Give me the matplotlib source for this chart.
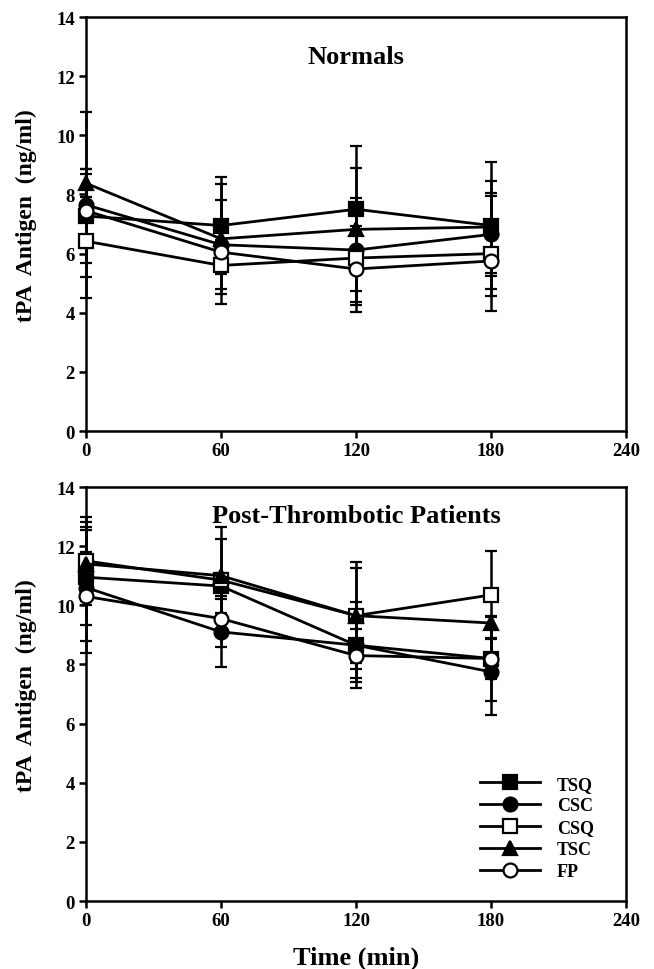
import matplotlib.pyplot as plt
from matplotlib.lines import Line2D

plt.rcParams['font.family'] = ['Liberation Serif', 'DejaVu Serif']
plt.rcParams['font.weight'] = 'bold'

times = [0, 60, 120, 180]  # minutes
groups = ['TSQ', 'CSC', 'CSQ', 'TSC', 'FP']

# Normals: mean tPA antigen (ng/ml) and error per group
norm_mean = {
    'TSQ': [7.27, 6.95, 7.5, 6.95],
    'CSC': [7.65, 6.3, 6.12, 6.65],
    'CSQ': [6.42, 5.6, 5.85, 6.0],
    'TSC': [8.38, 6.5, 6.82, 6.9],
    'FP': [7.45, 6.05, 5.48, 5.75],
}
norm_err = {
    'TSQ': [1.6, 1.65, 2.15, 2.15],
    'CSC': [3.15, 1.5, 1.75, 1.4],
    'CSQ': [1.22, 1.3, 1.6, 1.95],
    'TSC': [0.47, 1.85, 2.08, 1.55],
    'FP': [1.25, 0.4, 1.45, 1.2],
}

# Post-thrombotic patients
pt_mean = {
    'TSQ': [10.95, 10.65, 8.65, 8.2],
    'CSC': [10.6, 9.1, 8.65, 7.75],
    'CSQ': [11.5, 10.85, 9.65, 10.35],
    'TSC': [11.4, 11.0, 9.65, 9.4],
    'FP': [10.3, 9.55, 8.3, 8.2],
}
pt_err = {
    'TSQ': [1.6, 0.45, 1.45, 0.7],
    'CSC': [2.2, 1.2, 1.1, 1.45],
    'CSQ': [1.5, 1.8, 1.8, 1.5],
    'TSC': [1.25, 1.25, 1.6, 0.2],
    'FP': [1.5, 0.95, 0.9, 1.45],
}

styles = {
    'TSQ': dict(marker='s', mfc='black'),
    'CSC': dict(marker='o', mfc='black'),
    'CSQ': dict(marker='s', mfc='white'),
    'TSC': dict(marker='^', mfc='black'),
    'FP': dict(marker='o', mfc='white'),
}

fig = plt.figure(figsize=(6.54, 9.70), dpi=100)
ax1 = fig.add_axes([0.1315, 0.5546, 0.8257, 0.4268])
ax2 = fig.add_axes([0.1315, 0.0701, 0.8257, 0.4268])


def draw(ax, means, errs, title, ty):
    for g in groups:
        st = styles[g]
        ms = 10 if st['marker'] != '^' else 10.5
        lines = ax.errorbar(times, means[g], yerr=errs[g], color='black', lw=2,
                            elinewidth=1.8, capsize=4, capthick=2,
                            marker=st['marker'], mfc=st['mfc'], mec='black',
                            mew=1.6, ms=ms, zorder=3)
        for art in [lines[0], *lines[1], *lines[2]]:
            art.set_clip_on(False)
    ax.set_xlim(0, 240)
    ax.set_ylim(0, 14)
    ax.set_xticks([0, 60, 120, 180, 240])
    ax.set_yticks(range(0, 15, 2))
    ax.tick_params(direction='out', length=5, width=1.8, labelsize=13.5, pad=3)
    for s in ax.spines.values():
        s.set_linewidth(1.8)
    for lab in ax.get_xticklabels() + ax.get_yticklabels():
        lab.set_fontweight('bold')
    ax.set_ylabel('tPA  Antigen  (ng/ml)', fontsize=17, fontweight='bold', labelpad=6)
    ax.yaxis.set_label_coords(-0.09, 0.523)
    ax.text(0.5, ty, title, transform=ax.transAxes, ha='center', va='center',
            fontsize=19, fontweight='bold')


draw(ax1, norm_mean, norm_err, 'Normals', 0.904)
draw(ax2, pt_mean, pt_err, 'Post-Thrombotic Patients', 0.931)
ax2.set_xlabel('Time (min)', fontsize=19, fontweight='bold', labelpad=12)

handles = [Line2D([], [], color='black', lw=2, marker=styles[g]['marker'],
                  mfc=styles[g]['mfc'], mec='black', mew=1.6, ms=10)
           for g in groups]
ax2.legend(handles, groups, loc='upper left', bbox_to_anchor=(0.73, 0.303),
           frameon=False, handlelength=3.3, labelspacing=0.27,
           handletextpad=0.95, borderpad=0, borderaxespad=0,
           prop={'weight': 'bold', 'size': 13})

plt.savefig('out.png', dpi=100)
